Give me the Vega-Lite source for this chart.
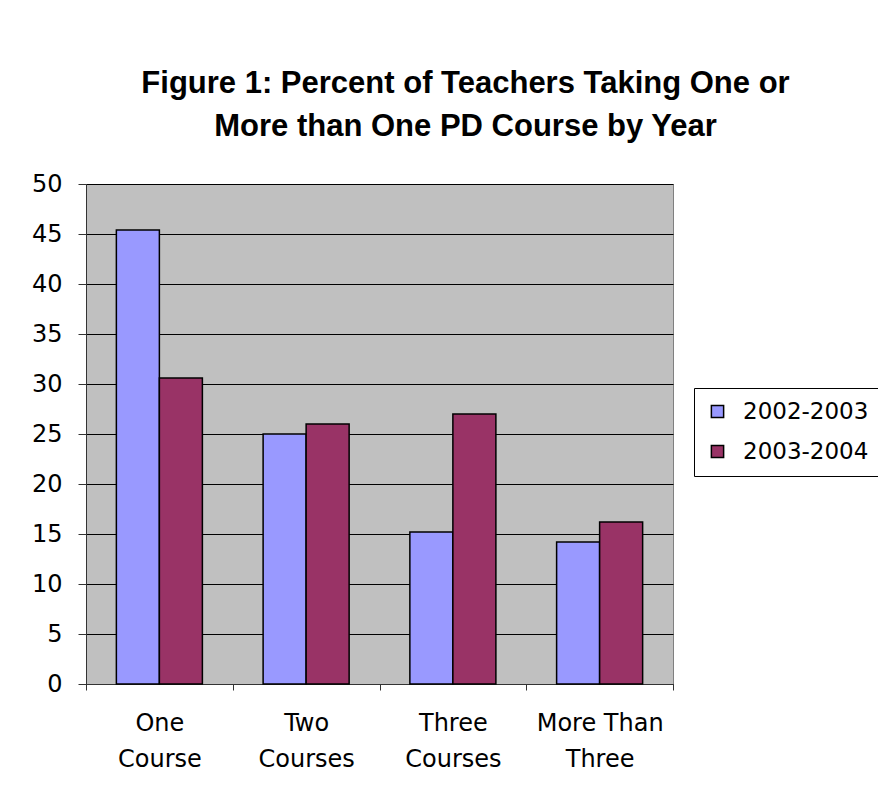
{
  "$schema": "https://vega.github.io/schema/vega-lite/v6.json",
  "width": 587,
  "height": 500,
  "autosize": {"type": "none"},
  "padding": {"left": 86, "top": 184, "right": 205, "bottom": 111},
  "background": "white",
  "title": {
    "text": ["Figure 1: Percent of Teachers Taking One or", "More than One PD Course by Year"],
    "font": "Liberation Sans",
    "fontSize": 31,
    "fontWeight": "bold",
    "color": "black",
    "anchor": "middle",
    "dx": 86,
    "lineHeight": 43,
    "offset": 29
  },
  "data": {
    "values": [
      {"category": "One Course", "year": "2002-2003", "percent": 45.4},
      {"category": "One Course", "year": "2003-2004", "percent": 30.6},
      {"category": "Two Courses", "year": "2002-2003", "percent": 25.0},
      {"category": "Two Courses", "year": "2003-2004", "percent": 26.0},
      {"category": "Three Courses", "year": "2002-2003", "percent": 15.2},
      {"category": "Three Courses", "year": "2003-2004", "percent": 27.0},
      {"category": "More Than Three", "year": "2002-2003", "percent": 14.2},
      {"category": "More Than Three", "year": "2003-2004", "percent": 16.2}
    ]
  },
  "mark": {"type": "bar", "stroke": "black", "strokeWidth": 1.5},
  "encoding": {
    "x": {
      "field": "category",
      "type": "nominal",
      "sort": ["One Course", "Two Courses", "Three Courses", "More Than Three"],
      "scale": {"paddingInner": 0, "paddingOuter": 0},
      "axis": {
        "title": null,
        "labelAngle": 0,
        "labelExpr": "!isValid(datum.value) ? '' : datum.value == 'More Than Three' ? ['More Than', 'Three'] : split(datum.value, ' ')",
        "labelFont": "DejaVu Sans",
        "labelFontSize": 24,
        "labelLineHeight": 36,
        "labelColor": "black",
        "labelPadding": 21,
        "tickBand": "extent",
        "tickSize": 6,
        "tickColor": "#333333",
        "domainColor": "#333333",
        "grid": false
      }
    },
    "xOffset": {
      "field": "year",
      "type": "nominal",
      "scale": {"paddingInner": 0, "paddingOuter": 0.706}
    },
    "y": {
      "field": "percent",
      "type": "quantitative",
      "scale": {"domain": [0, 50], "nice": false},
      "axis": {
        "title": null,
        "values": [0, 5, 10, 15, 20, 25, 30, 35, 40, 45, 50],
        "labelFont": "DejaVu Sans",
        "labelFontSize": 24,
        "labelColor": "black",
        "labelPadding": 16,
        "tickSize": 8,
        "tickColor": "#333333",
        "domainColor": "#333333",
        "grid": true,
        "gridColor": "black",
        "gridWidth": 1,
        "gridOpacity": 1
      }
    },
    "color": {
      "field": "year",
      "type": "nominal",
      "scale": {"domain": ["2002-2003", "2003-2004"], "range": ["#9999FF", "#993366"]},
      "legend": {
        "title": null,
        "orient": "none",
        "legendX": 608,
        "legendY": 204,
        "strokeColor": "black",
        "fillColor": "white",
        "padding": 12,
        "symbolType": "square",
        "symbolSize": 150,
        "symbolStrokeColor": "black",
        "symbolStrokeWidth": 1.5,
        "symbolOpacity": 1,
        "labelFont": "DejaVu Sans",
        "labelFontSize": 23,
        "labelColor": "black",
        "labelOffset": 14,
        "rowPadding": 16
      }
    }
  },
  "config": {
    "view": {"fill": "#C0C0C0", "stroke": "#808080", "strokeWidth": 1}
  }
}
